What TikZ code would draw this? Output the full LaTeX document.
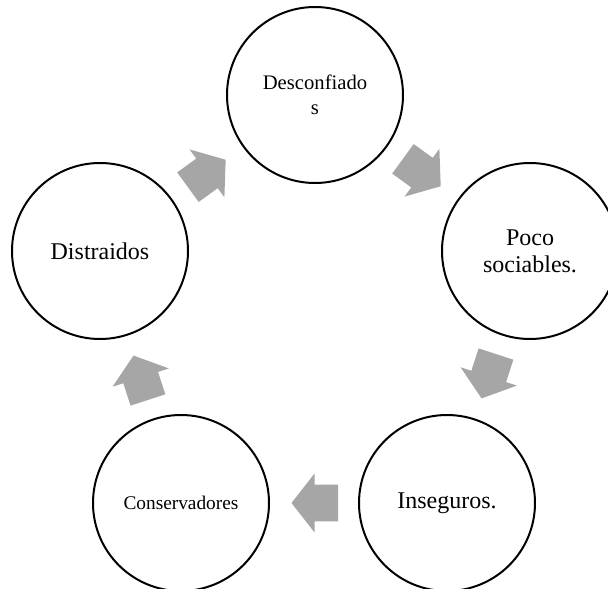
\documentclass[tikz,border=0pt]{standalone}
\usepackage{fontspec}
\setmainfont{Liberation Serif}
\usetikzlibrary{shapes.arrows,calc}

\definecolor{flechagris}{RGB}{166, 166, 166}

\begin{document}
\begin{tikzpicture}[x=0.75pt, y=-0.75pt,
    circulo/.style={circle, draw=black, line width=1.5pt, minimum size=132pt,
      inner sep=0pt, align=center, font=\fontsize{18}{20}\selectfont},
    flecha/.style={single arrow, fill=flechagris, draw=none, inner sep=0pt,
      text height=13.5pt, text depth=13.5pt, text width=0pt,
      minimum height=35pt, single arrow head extend=8.5pt,
      single arrow tip angle=104}]
  \useasboundingbox (0, 0) rectangle (608, 589);
  \clip (0, 0) rectangle (608, 589);

  \node[circulo, font=\fontsize{15.5}{19}\selectfont] (desc) at (315, 95) {Desconfiado\\s};
  \node[circulo] (poco) at (530, 251) {Poco\\sociables.};
  \node[circulo] (inse) at (447, 503) {Inseguros.};
  \node[circulo, font=\fontsize{14.5}{17}\selectfont] (cons) at (181, 503) {Conservadores};
  \node[circulo] (dist) at (100, 251) {Distraidos};

  % flechas del ciclo
  \node[flecha, rotate=-36] (f1) at ($(desc)!0.47!(poco)$) {};
  \node[flecha, rotate=-108] (f2) at ($(poco)!0.47!(inse)$) {};
  \node[flecha, rotate=180] (f3) at ($(inse)!0.47!(cons)$) {};
  \node[flecha, rotate=108] (f4) at ($(cons)!0.47!(dist)$) {};
  \node[flecha, rotate=36] (f5) at ($(dist)!0.47!(desc)$) {};
\end{tikzpicture}
\end{document}
